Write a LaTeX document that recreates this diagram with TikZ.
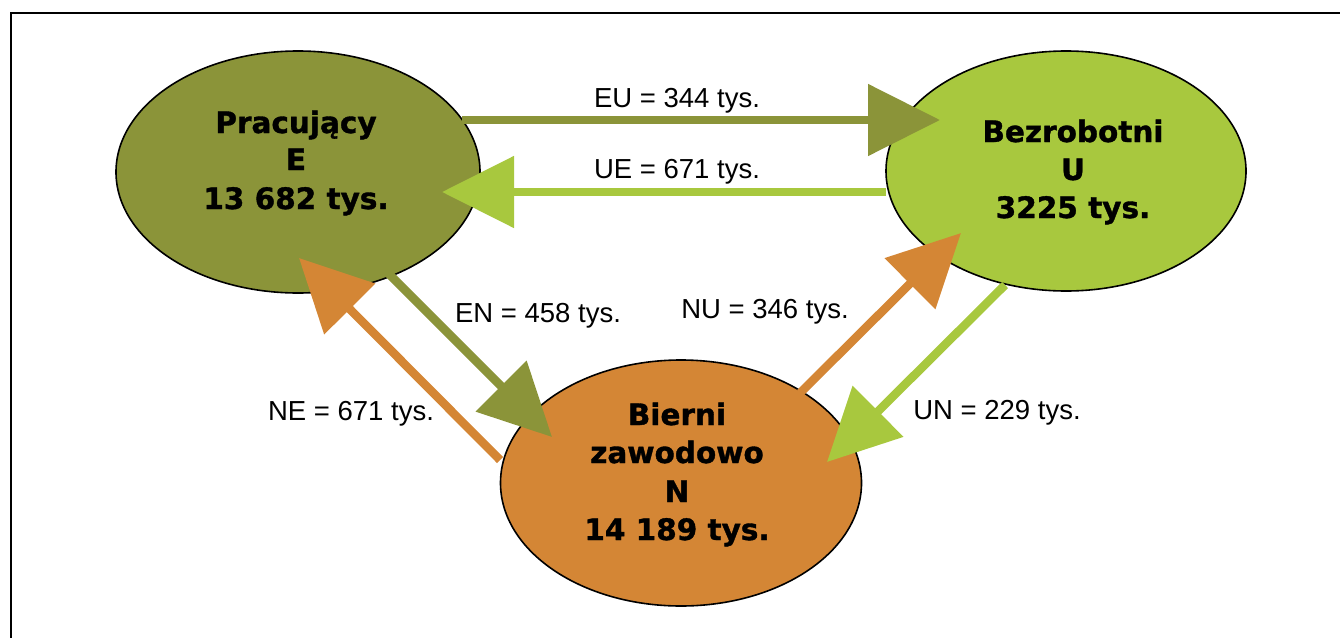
\documentclass[tikz,border=0pt]{standalone}
\usepackage{fontspec}
\setmainfont{Liberation Sans}
\newfontfamily\boldfam{DejaVu Sans}[BoldFeatures={FakeBold=1.2}]
\usetikzlibrary{arrows.meta,calc,shapes.geometric}
\definecolor{olivec}{RGB}{139,148,57}
\definecolor{limec}{RGB}{168,200,62}
\definecolor{orangec}{RGB}{212,134,53}
\tikzset{
  state/.style={ellipse, draw=black, line width=1.6pt, inner sep=0pt},
  big/.style={anchor=base, inner sep=0pt, font=\boldfam\bfseries\fontsize{29.5}{36}\selectfont},
  small/.style={anchor=base, inner sep=0pt, font=\fontsize{27.5}{30}\selectfont},
  flow/.style={line width=8.5pt, -{Triangle[length=72pt,width=70pt]}}
}
\begin{document}
\begin{tikzpicture}[x=1pt,y=-1pt]
\useasboundingbox (0,0) rectangle (1340,637);
\draw[line width=1.6pt] (11,650) -- (11,13) -- (1350,13);
% states
\node[state, fill=olivec, minimum width=364pt, minimum height=242pt] (E) at (298,172) {};
\node[state, fill=limec, minimum width=360pt, minimum height=240pt] (U) at (1066,171) {};
\node[state, fill=orangec, minimum width=361pt, minimum height=246pt] (N) at (681,483) {};
% state texts
\node[big] (E1) at (296,133) {Pracujący};
\node[big] (E2) at (296,170) {E};
\node[big] (E3) at (296,209) {13 682 tys.};
\node[big] (U1) at (1073,142) {Bezrobotni};
\node[big] (U2) at (1073,180) {U};
\node[big] (U3) at (1073,218) {3225 tys.};
\node[big] (N1) at (677,425) {Bierni};
\node[big] (N2) at (677,463) {zawodowo};
\node[big] (N3) at (677,502) {N};
\node[big] (N4) at (677,540) {14 189 tys.};
% flow end points
\coordinate (eu1) at ($(E)+(164,-52)$);
\coordinate (eu2) at ($(U)+(-126,-51)$);
\coordinate (ue1) at ($(U)+(-180,21)$);
\coordinate (ue2) at ($(E)+(144,20)$);
\coordinate (en1) at ($(E)+(90,101)$);
\coordinate (en2) at ($(N)+(-129,-46)$);
\coordinate (ne1) at ($(N)+(-181,-23)$);
\coordinate (ne2) at ($(E)+(1,86)$);
\coordinate (nu1) at ($(N)+(119,-90)$);
\coordinate (nu2) at ($(U)+(-105,62)$);
\coordinate (un1) at ($(U)+(-61,114)$);
\coordinate (un2) at ($(N)+(146,-21)$);
% flows
\draw[flow, olivec] (eu1) -- (eu2);
\draw[flow, limec] (ue1) -- (ue2);
\draw[flow, olivec] (en1) -- (en2);
\draw[flow, orangec] (ne1) -- (ne2);
\draw[flow, orangec] (nu1) -- (nu2);
\draw[flow, limec] (un1) -- (un2);
% flow labels
\node[small] (lEU) at (677,107) {EU = 344 tys.};
\node[small] (lUE) at (677,178) {UE = 671 tys.};
\node[small] (lEN) at (538,322) {EN = 458 tys.};
\node[small] (lNU) at (765,318) {NU = 346 tys.};
\node[small] (lNE) at (351,420) {NE = 671 tys.};
\node[small] (lUN) at (997,419) {UN = 229 tys.};
\end{tikzpicture}
\end{document}
